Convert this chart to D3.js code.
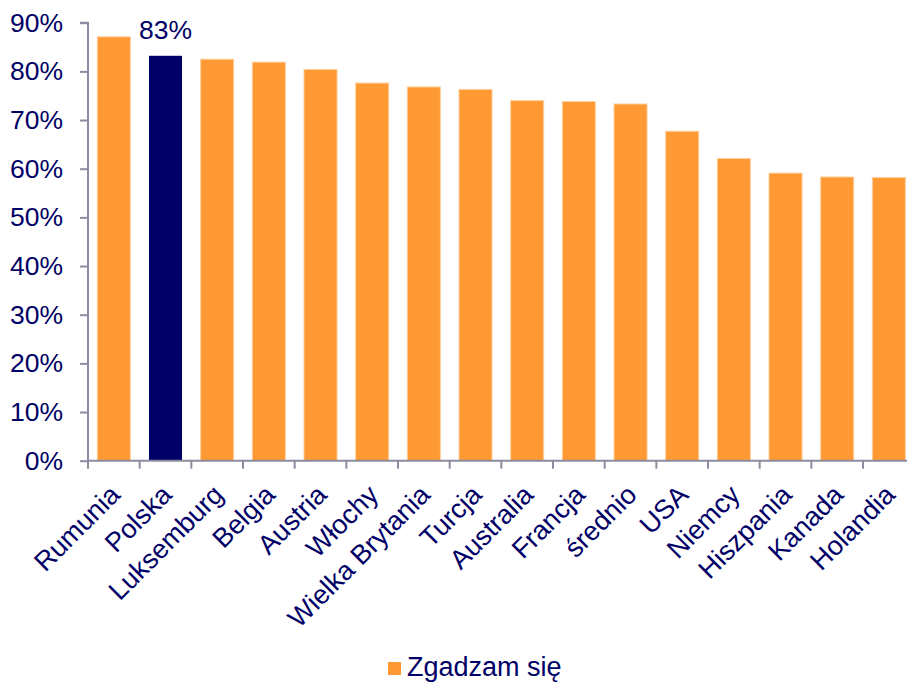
<!DOCTYPE html>
<html>
<head>
<meta charset="utf-8">
<script src="https://cdn.jsdelivr.net/npm/d3@7"></script>
<style>
  html, body { margin: 0; padding: 0; background: #fff; }
  svg { display: block; font-family: "Liberation Sans", Arial, sans-serif; }
</style>
</head>
<body>
<svg id="chart" width="907" height="683"></svg>
<script>
const categories = ["Rumunia", "Polska", "Luksemburg", "Belgia", "Austria", "Włochy", "Wielka Brytania", "Turcja", "Australia", "Francja", "średnio", "USA", "Niemcy", "Hiszpania", "Kanada", "Holandia"];
const values = [0.871, 0.832, 0.825, 0.819, 0.804, 0.776, 0.768, 0.763, 0.740, 0.738, 0.733, 0.677, 0.621, 0.591, 0.583, 0.582];
const highlighted = ["Polska"];
const yTicks = [0, 0.1, 0.2, 0.3, 0.4, 0.5, 0.6, 0.7, 0.8, 0.9];
const seriesName = "Zgadzam się";

const orange = "#FF9933";
const navy = "#000066";
const axisGrey = "#8C8CA0";

const svg = d3.select("#chart");
const x0 = 88, x1 = 914.7, yTop = 22.7, yBot = 460.7;

const x = d3.scaleBand().domain(categories).range([x0, x1]).paddingInner(0.36).paddingOuter(0.18);
const y = d3.scaleLinear().domain([0, 0.9]).range([yBot, yTop]);

// bars
svg.append("g").selectAll("rect").data(categories).join("rect")
  .attr("x", d => x(d))
  .attr("y", (d, i) => y(values[i]))
  .attr("width", x.bandwidth())
  .attr("height", (d, i) => yBot - y(values[i]))
  .attr("fill", d => highlighted.includes(d) ? navy : orange)
  .attr("stroke", d => highlighted.includes(d) ? "none" : "#FFD0A0")
  .attr("stroke-width", 1);

// value label for highlighted
categories.forEach((d, i) => {
  if (highlighted.includes(d)) {
    svg.append("text")
      .attr("x", x(d) + x.bandwidth() / 2)
      .attr("y", y(values[i]) - 17)
      .attr("text-anchor", "middle")
      .attr("fill", navy)
      .attr("font-size", 26.5)
      .text(d3.format(".0%")(values[i]));
  }
});

// y axis
const yAxis = d3.axisLeft(y).tickValues(yTicks).tickFormat(d3.format(".0%")).tickSize(8).tickPadding(17);
const gy = svg.append("g").attr("transform", `translate(${x0},0)`).call(yAxis);
gy.select(".domain").attr("stroke", axisGrey).attr("stroke-width", 2).attr("d", `M-8,${yTop}H0V${yBot}`);
gy.selectAll(".tick line").attr("stroke", axisGrey).attr("stroke-width", 2);
gy.selectAll(".tick text").attr("fill", navy).attr("font-size", 26.5).attr("font-family", "Liberation Sans, Arial, sans-serif");

// x axis
const gx = svg.append("g").attr("transform", `translate(0,${yBot})`);
gx.append("line").attr("x1", x0).attr("x2", 907).attr("y1", 0).attr("y2", 0)
  .attr("stroke", axisGrey).attr("stroke-width", 2);
const step = x.step();
const boundaries = d3.range(categories.length + 1).map(i => x0 + i * step);
gx.selectAll("line.tk").data(boundaries).join("line").attr("class", "tk")
  .attr("x1", d => d).attr("x2", d => d).attr("y1", 0).attr("y2", 8)
  .attr("stroke", axisGrey).attr("stroke-width", 2);

gx.selectAll("text").data(categories).join("text")
  .attr("transform", d => `translate(${x(d) + x.bandwidth() / 2 - 6},${22}) rotate(-45)`)
  .attr("text-anchor", "end")
  .attr("dy", "0.72em")
  .attr("fill", navy)
  .attr("font-size", 27)
  .text(d => d);

// legend
const lg = svg.append("g").attr("transform", "translate(388,662)");
lg.append("rect").attr("x", 0).attr("y", 0).attr("width", 13).attr("height", 13).attr("fill", orange);
lg.append("text").attr("x", 19).attr("y", 13.5).attr("fill", navy).attr("font-size", 27).text(seriesName);
</script>
</body>
</html>
